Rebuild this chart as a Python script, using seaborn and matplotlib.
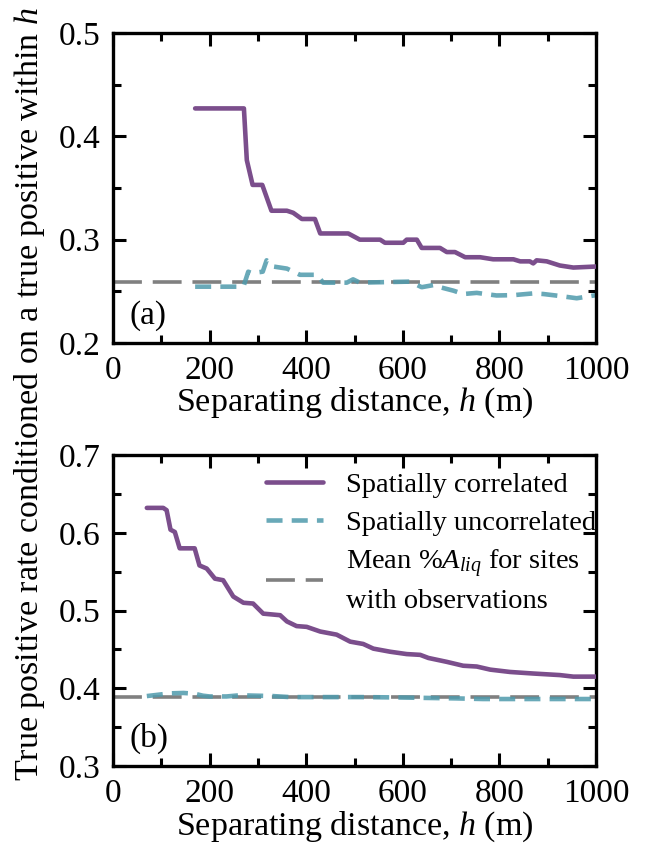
import numpy as np
import pandas as pd
import matplotlib
matplotlib.use("Agg")
import matplotlib.pyplot as plt
import seaborn as sns

# Panel (a): values
top_corr_h = [170, 271, 277, 289, 309, 328, 360, 373, 391, 418, 429, 487, 511, 553,
              563, 601, 608, 629, 639, 677, 691, 708, 729, 760, 787, 829, 843, 863,
              870, 877, 898, 925, 953, 1000]
top_corr_tp = [0.427, 0.427, 0.377, 0.353, 0.353, 0.328, 0.328, 0.326, 0.320, 0.320,
               0.306, 0.306, 0.300, 0.300, 0.297, 0.297, 0.300, 0.300, 0.292, 0.292,
               0.288, 0.288, 0.283, 0.283, 0.281, 0.281, 0.279, 0.279, 0.277, 0.280,
               0.279, 0.275, 0.273, 0.274]
top_unc_h = [170, 270, 280, 287, 310, 318, 332, 360, 387, 422, 435, 484, 497, 511,
             615, 639, 663, 677, 705, 725, 753, 794, 829, 870, 891, 925, 960, 1000]
top_unc_tp = [0.2545, 0.2545, 0.269, 0.2676, 0.269, 0.280, 0.274, 0.272, 0.266, 0.266,
              0.2584, 0.2584, 0.2616, 0.2584, 0.2594, 0.254, 0.256, 0.254, 0.2506,
              0.2474, 0.2485, 0.246, 0.2463, 0.248, 0.2474, 0.2455, 0.2433, 0.2463]
top_mean = 0.259

# Panel (b)
bot_corr_h = [70, 104, 111, 119, 128, 138, 169, 179, 194, 211, 228, 249, 270, 290, 311,
              346, 360, 380, 401, 429, 463, 491, 518, 539, 574, 608, 636, 653, 691, 725,
              753, 781, 822, 870, 925, 953, 1000]
bot_corr_tp = [0.632, 0.632, 0.629, 0.604, 0.601, 0.580, 0.580, 0.558, 0.554, 0.541,
               0.539, 0.518, 0.510, 0.509, 0.496, 0.494, 0.486, 0.480, 0.479, 0.473,
               0.469, 0.460, 0.457, 0.451, 0.447, 0.444, 0.443, 0.439, 0.434, 0.429,
               0.428, 0.424, 0.421, 0.419, 0.417, 0.415, 0.415]
bot_unc_h = [70, 118, 146, 169, 186, 200, 235, 262, 331, 366, 511, 580, 711, 766, 1000]
bot_unc_tp = [0.390, 0.3935, 0.394, 0.393, 0.3905, 0.3895, 0.3895, 0.391, 0.390, 0.3887,
              0.3887, 0.3883, 0.387, 0.3862, 0.3862]
bot_mean = 0.389

purple = "#7B4E8C"
teal = "#4F9AAC"
grey = "#808080"

sns.set_theme(style="ticks")
plt.rcParams["font.family"] = ["Liberation Serif", "DejaVu Serif"]
plt.rcParams["mathtext.fontset"] = "custom"
plt.rcParams["mathtext.rm"] = "Liberation Serif"
plt.rcParams["mathtext.it"] = "Liberation Serif:italic"
for key in ["text.color", "axes.labelcolor", "xtick.color", "ytick.color"]:
    plt.rcParams[key] = "black"


def style_axis(ax, ylim, tag):
    ax.set_xlim(0, 1000)
    ax.set_ylim(*ylim)
    ax.set_xticks(np.arange(0, 1001, 200))
    ax.set_xticks(np.arange(100, 1000, 200), minor=True)
    ax.set_yticks(np.arange(ylim[0], ylim[1] + 0.001, 0.1))
    ax.set_yticks(np.arange(ylim[0] + 0.05, ylim[1], 0.1), minor=True)
    ax.yaxis.set_major_formatter(matplotlib.ticker.FormatStrFormatter("%.1f"))
    ax.tick_params(which="both", direction="in", top=True, right=True,
                   width=2.2, labelsize=24, pad=9, colors="black")
    ax.tick_params(which="major", length=9.5)
    ax.tick_params(which="minor", length=6)
    for sp in ax.spines.values():
        sp.set_visible(True)
        sp.set_linewidth(2.4)
        sp.set_color("black")
    ax.set_xlabel("Separating distance, $h$ (m)", fontsize=24.5, labelpad=0)
    ax.set_ylabel("")
    ax.text(0.035, 0.04, tag, transform=ax.transAxes, fontsize=24,
            ha="left", va="bottom")


fig = plt.figure(figsize=(6.48, 8.59), dpi=100)
ax1 = fig.add_axes([0.1744, 0.6007, 0.7454, 0.3609])
ax2 = fig.add_axes([0.1744, 0.1082, 0.7454, 0.3621])

for ax, ch, ct, uh, ut, m, ylim, tag in [
        (ax1, top_corr_h, top_corr_tp, top_unc_h, top_unc_tp, top_mean, (0.2, 0.5), "(a)"),
        (ax2, bot_corr_h, bot_corr_tp, bot_unc_h, bot_unc_tp, bot_mean, (0.3, 0.7), "(b)")]:
    ax.axhline(m, color=grey, lw=2.6, linestyle=(0, (8, 3)), zorder=1,
               label="Mean $\\mathit{\\%A}_{liq}$ for sites\nwith observations")
    sns.lineplot(x=uh, y=ut, ax=ax, color=teal, lw=3.3, alpha=0.85,
                 linestyle=(0, (3.5, 2)), zorder=2, label="Spatially uncorrelated")
    sns.lineplot(x=ch, y=ct, ax=ax, color=purple, lw=3.3, zorder=3,
                 label="Spatially correlated")
    style_axis(ax, ylim, tag)
    ax.get_legend().remove()

handles, labels = ax2.get_legend_handles_labels()
order = [2, 1, 0]
leg = ax2.legend([handles[i] for i in order], [labels[i] for i in order],
                 loc="upper right", bbox_to_anchor=(1.038, 1.005), frameon=False,
                 fontsize=20.5, handlelength=2.0, handletextpad=0.8, labelspacing=0.42,
                 borderaxespad=0.25)
for t in leg.get_texts():
    t.set_linespacing(1.45)

fig.text(0.045, 0.541, "True positive rate conditioned on a true positive within $h$",
         rotation=90, ha="center", va="center", fontsize=24.5)

fig.savefig("out.png", dpi=100)
